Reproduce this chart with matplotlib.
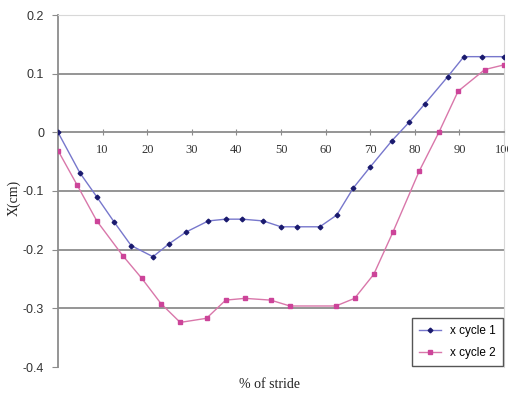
import numpy as np
import matplotlib
matplotlib.use('Agg')
import matplotlib.pyplot as plt

# stride percentage and X displacement (cm)
stride1 = [0, 4.9, 8.7, 12.6, 16.4, 21.3, 24.9, 28.7, 33.7, 37.6, 41.3, 46.0,
           50.0, 53.6, 58.7, 62.5, 66.2, 70.0, 74.9, 78.7, 82.3, 87.4, 91.0, 95.1, 100]
x_cycle1 = [0, -0.069, -0.110, -0.153, -0.193, -0.212, -0.190, -0.170, -0.151, -0.148,
            -0.148, -0.151, -0.161, -0.161, -0.161, -0.141, -0.095, -0.059, -0.014,
            0.017, 0.049, 0.095, 0.129, 0.129, 0.129]

stride2 = [0, 4.3, 8.7, 14.5, 18.8, 23.1, 27.4, 33.3, 37.6, 41.9, 47.7, 52.0, 62.3,
           66.5, 70.8, 75.1, 81.0, 85.4, 89.7, 95.7, 100]
x_cycle2 = [-0.031, -0.090, -0.151, -0.210, -0.249, -0.292, -0.324, -0.317, -0.286,
            -0.283, -0.286, -0.296, -0.296, -0.283, -0.242, -0.170, -0.066, 0.0,
            0.070, 0.107, 0.115]

xticks = [10, 20, 30, 40, 50, 60, 70, 80, 90, 100]
yticks = [-0.4, -0.3, -0.2, -0.1, 0, 0.1, 0.2]

serif = ['Liberation Serif', 'DejaVu Serif']
sans = ['Liberation Sans', 'DejaVu Sans']

fig = plt.figure(figsize=(5.08, 4.01), dpi=100)
ax = fig.add_axes([58 / 508, 1 - 367 / 401, 446 / 508, 352 / 401])

for y in [-0.3, -0.2, -0.1, 0.1]:
    ax.axhline(y, color='#8c8c8c', lw=1.3, zorder=1)

ax.plot(stride1, x_cycle1, color='#7777cc', lw=1.0, marker='D', ms=2.4,
        mfc='#1a1a6e', mec='#1a1a6e', label='x cycle 1', zorder=3)
ax.plot(stride2, x_cycle2, color='#d977aa', lw=1.0, marker='s', ms=3.4,
        mfc='#cc4499', mec='#cc4499', label='x cycle 2', zorder=3)

ax.set_xlim(0, 100)
ax.set_ylim(-0.4, 0.2)

ax.spines['bottom'].set_position(('data', 0))
ax.spines['bottom'].set_color('#8c8c8c')
ax.spines['bottom'].set_linewidth(1.3)
ax.spines['left'].set_color('#8c8c8c')
ax.spines['left'].set_linewidth(1.3)
ax.spines['top'].set_color('#d8d8d8')
ax.spines['right'].set_color('#d8d8d8')

ax.set_xticks(xticks)
ax.set_xticklabels([str(t) for t in xticks], family=serif, fontsize=9, color='#333333')
ax.tick_params(axis='x', direction='inout', length=5, color='#8c8c8c', pad=6)

ax.set_yticks(yticks)
ax.set_yticklabels(['-0.4', '-0.3', '-0.2', '-0.1', '0', '0.1', '0.2'],
                   family=sans, fontsize=9, color='#333333')
ax.tick_params(axis='y', direction='out', length=4, color='#8c8c8c', pad=6)

fig.text(14 / 508, 1 - 198 / 401, 'X(cm)', family=serif, fontsize=10,
         color='#222222', rotation=90, ha='center', va='center')
fig.text(0.53, 1 - 385 / 401, '% of stride', family=serif, fontsize=10,
         color='#222222', ha='center', va='center')

leg = ax.legend(loc='lower right', fancybox=False, edgecolor='#555555',
                prop={'family': sans, 'size': 8.5}, borderaxespad=0.1,
                handlelength=1.8, labelspacing=0.8, borderpad=0.6, framealpha=1)
leg.get_frame().set_linewidth(1.0)

fig.savefig('out.png', dpi=100)
